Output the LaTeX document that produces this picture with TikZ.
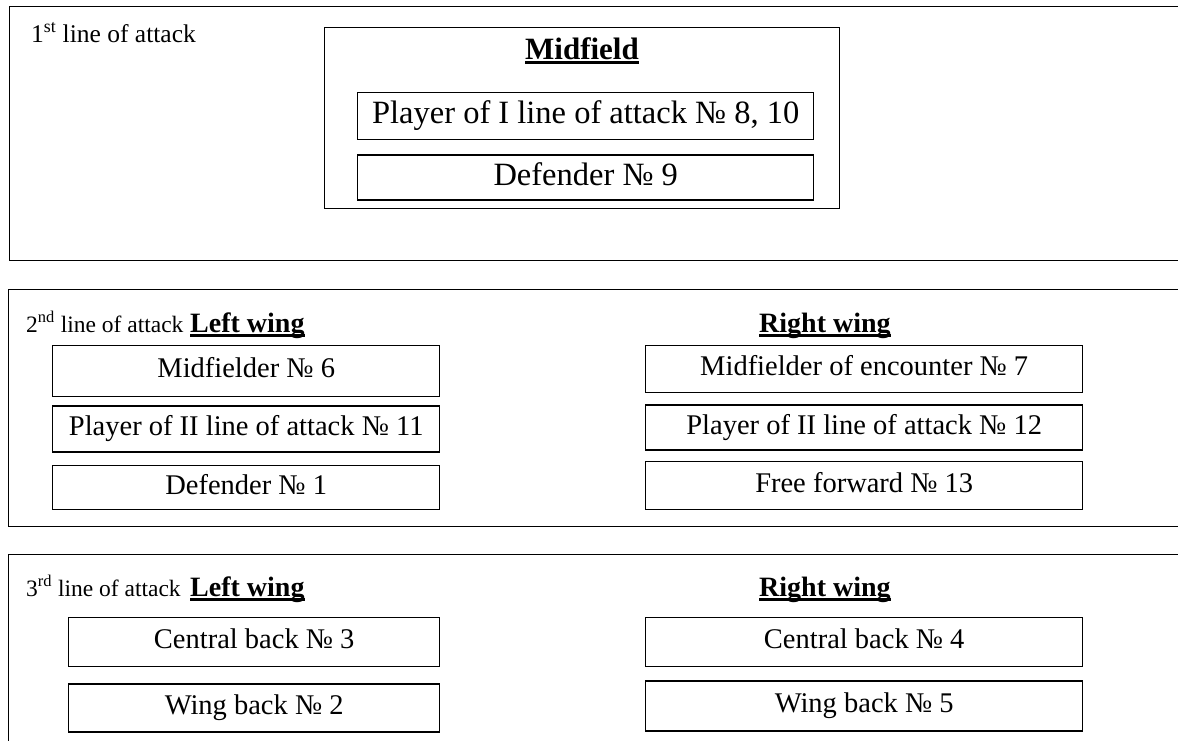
\documentclass[tikz,border=0pt]{standalone}
\usepackage{fontspec}
\setmainfont{Liberation Serif}
\usetikzlibrary{positioning}

% underlined heading, rule just under the baseline
\newcommand{\headul}[1]{\setbox0=\hbox{#1}\rlap{\rule[-0.17em]{\wd0}{0.09em}}\box0}

\begin{document}
\begin{tikzpicture}[
    x=1pt, y=-1pt,
    panel/.style={rectangle, draw, line width=1.4pt, anchor=north west, minimum width=1250pt, inner sep=0pt},
    group/.style={rectangle, draw, line width=1.4pt, anchor=north west, inner sep=0pt},
    player/.style={rectangle, draw, line width=1.4pt, inner sep=0pt, text height=20pt, text depth=7pt, font=\fontsize{28.5}{33}\selectfont},
    bigplayer/.style={player, text height=22pt, text depth=7pt, font=\fontsize{32.5}{38}\selectfont},
    head/.style={anchor=base west, inner sep=0pt, font=\fontsize{28}{32}\selectfont\bfseries},
    linelabel/.style={anchor=base west, inner sep=0pt, font=\fontsize{23.5}{28}\selectfont}
]
    \useasboundingbox (0,0) rectangle (1178,740);
    \clip (0,0) rectangle (1178,740);

    % 1st line
    \node[panel, minimum height=254pt] (row1) at (9,6) {};
    \node[linelabel, font=\fontsize{25.5}{30}\selectfont] (lab1) at (31,42) {1\textsuperscript{st} line of attack};
    \node[group, minimum width=515pt, minimum height=181pt] (mid) at (324,27) {};
    \node[head, anchor=base, font=\fontsize{31}{36}\selectfont\bfseries] (midhead) at (582,59) {\headul{Midfield}};
    \node[bigplayer, anchor=north west, minimum width=456pt, minimum height=47pt] (p810) at (357,92) {Player of I line of attack № 8, 10};
    \node[bigplayer, minimum width=456pt, minimum height=45pt, below=14pt of p810] (d9) {Defender № 9};

    % 2nd line
    \node[panel, minimum height=237pt] (row2) at (8,289) {};
    \node[linelabel] (lab2) at (26,332) {2\textsuperscript{nd} line of attack};
    \node[head] (left2) at (190,332) {\headul{Left wing}};
    \node[head] (right2) at (759,332) {\headul{Right wing}};
    \node[player, anchor=north west, minimum width=387pt, minimum height=51pt] (m6) at (52,345) {Midfielder № 6};
    \node[player, minimum width=387pt, minimum height=46pt, below=8pt of m6] (p11) {Player of II line of attack № 11};
    \node[player, minimum width=387pt, minimum height=44pt, below=12pt of p11] (d1) {Defender № 1};
    \node[player, anchor=north west, minimum width=437pt, minimum height=47pt] (m7) at (645,345) {Midfielder of encounter № 7};
    \node[player, minimum width=437pt, minimum height=45pt, below=11pt of m7] (p12) {Player of II line of attack № 12};
    \node[player, minimum width=437pt, minimum height=48pt, below=10pt of p12] (f13) {Free forward № 13};

    % 3rd line
    \node[panel, minimum height=300pt] (row3) at (8,554) {};
    \node[linelabel] (lab3) at (26,596) {3\textsuperscript{rd} line of attack};
    \node[head] (left3) at (190,596) {\headul{Left wing}};
    \node[head] (right3) at (759,596) {\headul{Right wing}};
    \node[player, anchor=north west, minimum width=371pt, minimum height=49pt] (cb3) at (68,617) {Central back № 3};
    \node[player, minimum width=371pt, minimum height=48pt, below=16pt of cb3] (wb2) {Wing back № 2};
    \node[player, anchor=north west, minimum width=437pt, minimum height=49pt] (cb4) at (645,617) {Central back № 4};
    \node[player, minimum width=437pt, minimum height=50pt, below=13pt of cb4] (wb5) {Wing back № 5};
\end{tikzpicture}
\end{document}
